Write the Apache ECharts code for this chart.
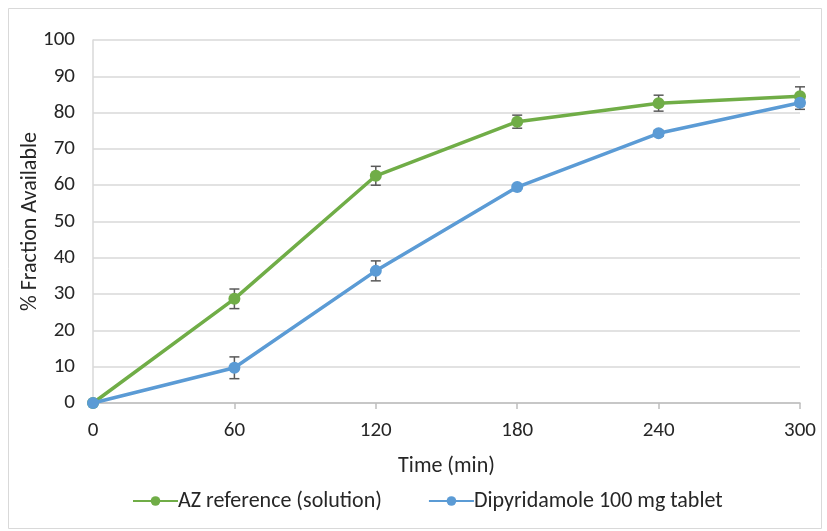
<!DOCTYPE html>
<html>
<head>
<meta charset="utf-8">
<script src="https://cdn.jsdelivr.net/npm/echarts@6/dist/echarts.min.js"></script>
<style>
html,body{margin:0;padding:0;background:#fff;}
#chart{width:827px;height:531px;}
</style>
</head>
<body>
<div id="chart"></div>
<script>
// Sampling times (min)
const times = [0, 60, 120, 180, 240, 300];
// Mean % fraction available and standard deviation per time point
const azReference = [0, 28.7, 62.6, 77.5, 82.6, 84.5];
const azReferenceSd = [0, 2.7, 2.6, 1.8, 2.2, 2.6];
const dipyridamole = [0, 9.7, 36.4, 59.5, 74.3, 82.7];
const dipyridamoleSd = [0, 3.0, 2.75, 0.5, 0.8, 1.8];
const seriesNames = ['AZ reference (solution)', 'Dipyridamole 100 mg tablet'];
const xTicks = { min: 0, max: 300, step: 60 };
const yTicks = { min: 0, max: 100, step: 10 };

const FONT = "Carlito, 'Liberation Sans', sans-serif";
const FS = 21;
const TEXT = '#262626';
const GREEN = '#70AD47';
const BLUE = '#5B9BD5';

function errorRows(values, sd) {
  return times.map((t, i) => [t, values[i] - sd[i], values[i] + sd[i]]);
}

function renderErrorBar(params, api) {
  const x = api.value(0);
  const lo = api.coord([x, api.value(1)]);
  const hi = api.coord([x, api.value(2)]);
  if (Math.abs(hi[1] - lo[1]) < 1) return null;
  const half = 5;
  const style = { stroke: '#595959', lineWidth: 1.5 };
  return {
    type: 'group',
    children: [
      { type: 'line', shape: { x1: lo[0], y1: lo[1], x2: hi[0], y2: hi[1] }, style },
      { type: 'line', shape: { x1: lo[0] - half, y1: lo[1], x2: lo[0] + half, y2: lo[1] }, style },
      { type: 'line', shape: { x1: hi[0] - half, y1: hi[1], x2: hi[0] + half, y2: hi[1] }, style }
    ]
  };
}

const chart = echarts.init(document.getElementById('chart'), null, { renderer: 'canvas' });
chart.setOption({
  animation: false,
  backgroundColor: '#fff',
  textStyle: { fontFamily: FONT },
  graphic: [{
    type: 'rect',
    shape: { x: 8.5, y: 8.5, width: 813, height: 520 },
    style: { fill: 'none', stroke: '#d9d9d9', lineWidth: 1 },
    silent: true
  }],
  grid: { left: 93, right: 27, top: 40, bottom: 128 },
  legend: {
    bottom: 14,
    left: 127,
    itemWidth: 45,
    itemHeight: 12,
    itemGap: 46,
    textStyle: { fontFamily: FONT, fontSize: 22, color: TEXT, padding: [0, 0, 0, -5] },
    data: seriesNames
  },
  xAxis: {
    type: 'value',
    min: xTicks.min, max: xTicks.max, interval: xTicks.step,
    name: 'Time (min)',
    nameLocation: 'middle',
    nameGap: 52,
    nameMoveOverlap: false,
    nameTextStyle: { fontFamily: FONT, fontSize: 22, color: TEXT },
    axisLine: { show: true, lineStyle: { color: '#bfbfbf', width: 1.5 } },
    axisTick: { show: true, length: 6, lineStyle: { color: '#bfbfbf', width: 1.5 } },
    axisLabel: { fontFamily: FONT, fontSize: FS, color: TEXT, margin: 17 },
    splitLine: { show: false }
  },
  yAxis: {
    type: 'value',
    min: yTicks.min, max: yTicks.max, interval: yTicks.step,
    name: '% Fraction Available',
    nameLocation: 'middle',
    nameGap: 52,
    nameMoveOverlap: false,
    nameTextStyle: { fontFamily: FONT, fontSize: 22, color: TEXT },
    axisLine: { show: true, lineStyle: { color: '#d9d9d9', width: 1.5 } },
    axisTick: { show: false },
    axisLabel: { fontFamily: FONT, fontSize: FS, color: TEXT, margin: 18 },
    splitLine: { show: true, lineStyle: { color: '#d9d9d9', width: 1.5 } }
  },
  series: [
    {
      type: 'custom',
      z: 1,
      silent: true,
      renderItem: renderErrorBar,
      encode: { x: 0, y: [1, 2] },
      data: errorRows(azReference, azReferenceSd)
    },
    {
      type: 'custom',
      z: 1,
      silent: true,
      renderItem: renderErrorBar,
      encode: { x: 0, y: [1, 2] },
      data: errorRows(dipyridamole, dipyridamoleSd)
    },
    {
      name: seriesNames[0],
      type: 'line',
      z: 2,
      data: times.map((t, i) => [t, azReference[i]]),
      color: GREEN,
      symbol: 'circle',
      symbolSize: 12,
      lineStyle: { width: 3.5, color: GREEN },
      itemStyle: { color: GREEN }
    },
    {
      name: seriesNames[1],
      type: 'line',
      z: 3,
      data: times.map((t, i) => [t, dipyridamole[i]]),
      color: BLUE,
      symbol: 'circle',
      symbolSize: 12,
      lineStyle: { width: 3.5, color: BLUE },
      itemStyle: { color: BLUE }
    }
  ]
});
</script>
</body>
</html>
